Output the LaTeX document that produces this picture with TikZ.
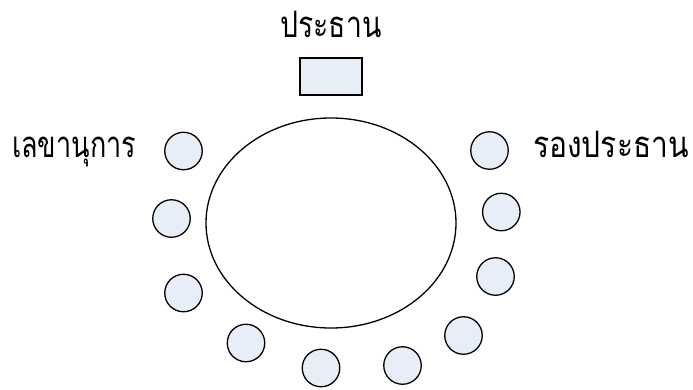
\documentclass[tikz,border=0pt]{standalone}
\usepackage{fontspec}
\usetikzlibrary{shapes.geometric}
\newfontfamily\thaifont[Script=Thai]{Loma}
\definecolor{seatfill}{RGB}{232,238,247}
\newcommand{\tallthai}[2][1]{\scalebox{#1}[1.35]{#2}}
\tikzset{
  seat/.style={circle, draw=black, line width=1.3pt, fill=seatfill, minimum size=37.5pt, inner sep=0pt},
  lbl/.style={font=\thaifont\fontsize{27}{30}\selectfont, inner sep=0pt, text=black},
}
\begin{document}
\begin{tikzpicture}[x=1pt,y=-1pt]
\useasboundingbox (0,0) rectangle (693,389);
\node[ellipse, draw=black, line width=1.3pt, minimum width=250pt, minimum height=210pt, inner sep=0pt] (table) at (331,223) {};
\node[draw=black, line width=1.3pt, fill=seatfill, minimum width=62pt, minimum height=37pt, inner sep=0pt] (chair) at (331,76.5) {};
\node[lbl, anchor=base] (chairlbl) at (331,37) {\tallthai[1.05]{ประธาน}};
\node[lbl, anchor=base west] (seclbl) at (12,157) {\tallthai{เลขานุการ}};
\node[lbl, anchor=base west] (vicelbl) at (533,157) {\tallthai[1.11]{รองประธาน}};
\node[seat] (s1) at (183.5,151) {};
\node[seat] (s2) at (171.5,218.5) {};
\node[seat] (s3) at (183.5,293) {};
\node[seat] (s4) at (246,343) {};
\node[seat] (s5) at (321,368) {};
\node[seat] (s6) at (402.5,365.5) {};
\node[seat] (s7) at (463.5,335.5) {};
\node[seat] (s8) at (495.5,276.5) {};
\node[seat] (s9) at (501.3,212) {};
\node[seat] (s10) at (489.5,150.5) {};
\end{tikzpicture}
\end{document}
